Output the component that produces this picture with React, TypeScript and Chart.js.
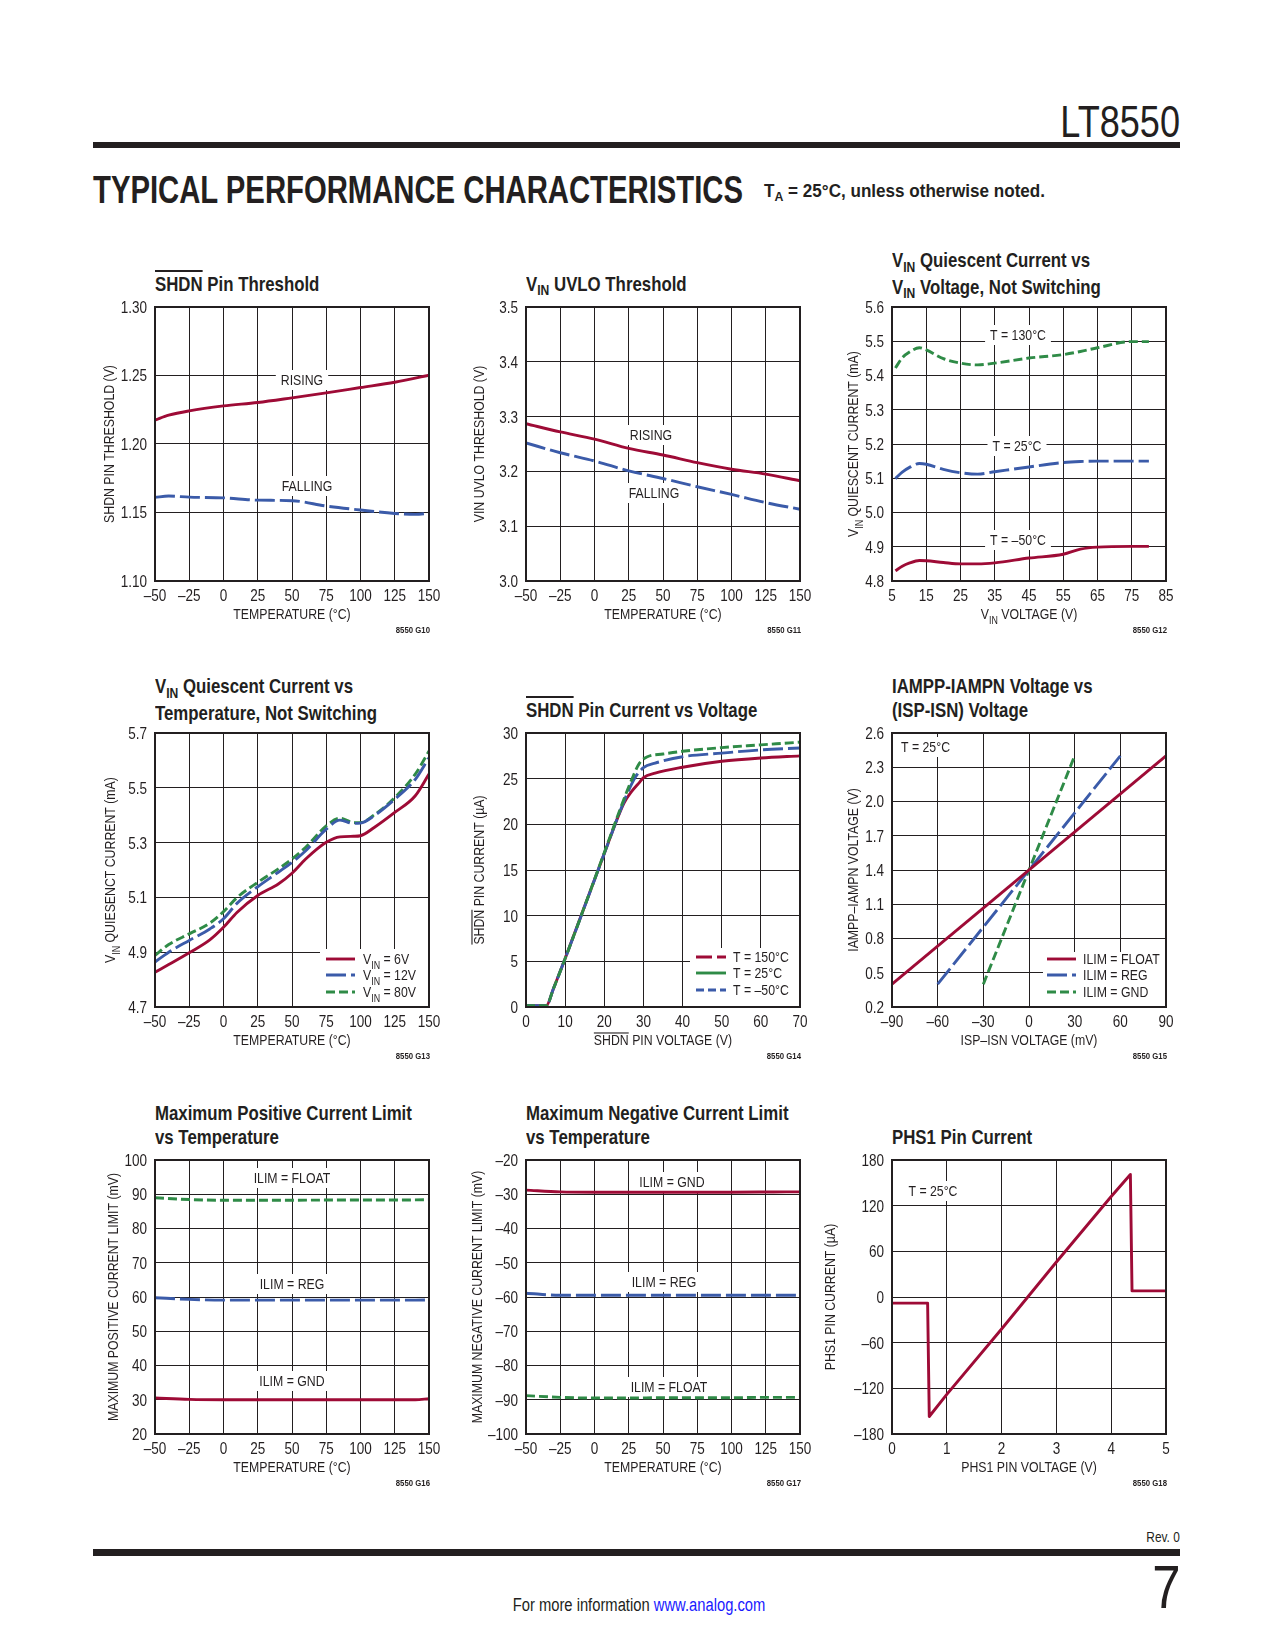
import React, { useEffect, useRef } from "react";
import { Chart, registerables } from "chart.js";
Chart.register(...registerables);

// ===================== DATA =====================
// G10  SHDN pin threshold vs temperature
const g10RisingTemp = [-50, -40, -25, 0, 25, 50, 75, 100, 125, 150];
const g10Rising = [1.2174, 1.221, 1.2242, 1.2278, 1.2303, 1.2337, 1.2373, 1.2412, 1.2451, 1.2502];
const g10FallingTemp = [-50, -40, -25, 0, 25, 50, 75, 100, 125, 140, 150];
const g10Falling = [1.161, 1.162, 1.1612, 1.1607, 1.159, 1.1586, 1.1547, 1.1518, 1.1493, 1.1486, 1.1495];

// G11  VIN UVLO threshold vs temperature
const g11Temp = [-50, -25, 0, 25, 50, 75, 100, 125, 150];
const g11Rising = [3.287, 3.272, 3.259, 3.242, 3.23, 3.216, 3.204, 3.195, 3.183];
const g11Falling = [3.252, 3.234, 3.219, 3.201, 3.187, 3.172, 3.158, 3.143, 3.131];

// G12  VIN quiescent current vs VIN
const g12Vin = [6, 8, 10, 13, 15, 20, 25, 30, 35, 45, 55, 60, 65, 75, 80];
const g12T130 = [5.422, 5.452, 5.468, 5.481, 5.475, 5.449, 5.436, 5.431, 5.436, 5.451, 5.461, 5.47, 5.481, 5.499, 5.499];
const g12T25 = [5.099, 5.118, 5.131, 5.143, 5.141, 5.126, 5.116, 5.112, 5.119, 5.133, 5.146, 5.149, 5.15, 5.15, 5.15];
const g12Tm50 = [4.83, 4.843, 4.852, 4.86, 4.859, 4.854, 4.85, 4.85, 4.853, 4.867, 4.878, 4.893, 4.899, 4.901, 4.901];

// G13  VIN quiescent current vs temperature
const g13Temp = [-50, -40, -25, -10, 0, 10, 25, 40, 50, 60, 75, 85, 95, 100, 110, 125, 140, 150];
const g13Vin6 = [4.827, 4.855, 4.898, 4.945, 4.991, 5.046, 5.107, 5.149, 5.188, 5.24, 5.301, 5.321, 5.323, 5.325, 5.355, 5.41, 5.471, 5.55];
const g13Vin12 = [4.864, 4.9, 4.943, 4.985, 5.022, 5.079, 5.139, 5.192, 5.228, 5.27, 5.349, 5.382, 5.37, 5.371, 5.398, 5.458, 5.531, 5.61];
const g13Vin80 = [4.888, 4.928, 4.967, 5.006, 5.048, 5.1, 5.155, 5.204, 5.24, 5.283, 5.361, 5.389, 5.373, 5.373, 5.401, 5.464, 5.55, 5.634];

// G14  SHDN pin current vs voltage
const g14RedV = [0, 5.2, 7, 10, 20, 25, 27, 29, 30, 33, 40, 50, 60, 70];
const g14RedI = [0.15, 0.15, 2.0, 5.3, 16.8, 22.3, 23.6, 24.6, 25.1, 25.6, 26.25, 26.9, 27.27, 27.5];
const g14BlueV = [0, 5.2, 7, 10, 20, 24, 26, 28, 30, 33, 40, 50, 60, 70];
const g14BlueI = [0.15, 0.15, 2.0, 5.3, 16.8, 21.4, 23.5, 25.2, 26.2, 26.7, 27.4, 27.8, 28.15, 28.36];
const g14GreenV = [0, 5.2, 7, 10, 20, 24, 27, 29, 31, 35, 40, 50, 60, 70];
const g14GreenI = [0.15, 0.15, 2.0, 5.3, 16.9, 21.6, 24.9, 26.7, 27.4, 27.7, 28.0, 28.4, 28.7, 29.0];

// G15  IAMPP-IAMPN vs ISP-ISN
const g15FloatX = [-90, 90];
const g15FloatY = [0.4, 2.4];
const g15RegX = [-60, 60];
const g15RegY = [0.4, 2.4];
const g15GndX = [-30, 30];
const g15GndY = [0.4, 2.4];

// G16  Max positive current limit
const g16Temp = [-50, -25, 0, 25, 50, 75, 100, 125, 140, 150];
const g16Float = [89.0, 88.45, 88.25, 88.25, 88.25, 88.3, 88.3, 88.3, 88.35, 88.4];
const g16Reg = [59.8, 59.3, 59.1, 59.1, 59.1, 59.1, 59.1, 59.1, 59.1, 59.15];
const g16Gnd = [30.5, 30.1, 30.0, 30.0, 30.0, 30.0, 30.0, 30.0, 30.0, 30.3];

// G17  Max negative current limit
const g17Temp = [-50, -25, 0, 25, 50, 75, 100, 125, 140, 150];
const g17Gnd = [-28.8, -29.3, -29.4, -29.4, -29.4, -29.4, -29.4, -29.35, -29.3, -29.3];
const g17Reg = [-58.9, -59.5, -59.5, -59.5, -59.5, -59.5, -59.5, -59.5, -59.5, -59.5];
const g17Float = [-88.8, -89.3, -89.5, -89.5, -89.4, -89.4, -89.4, -89.3, -89.3, -89.3];

// G18  PHS1 pin current
const g18Volt = [0, 0.65, 0.68, 1, 2, 2.5, 3, 4, 4.35, 4.38, 5];
const g18Curr = [-8, -8, -157, -128, -42, 2, 46, 132, 161, 8, 8];

// axis ranges [min, max, step]
const tempAxis: [number, number, number] = [-50, 150, 25];
const g10YAxis: [number, number, number] = [1.1, 1.3, 0.05];
const g11YAxis: [number, number, number] = [3.0, 3.5, 0.1];
const g12XAxis: [number, number, number] = [5, 85, 10];
const g12YAxis: [number, number, number] = [4.8, 5.6, 0.1];
const g13YAxis: [number, number, number] = [4.7, 5.7, 0.2];
const g14XAxis: [number, number, number] = [0, 70, 10];
const g14YAxis: [number, number, number] = [0, 30, 5];
const g15XAxis: [number, number, number] = [-90, 90, 30];
const g15YAxis: [number, number, number] = [0.2, 2.6, 0.3];
const g16YAxis: [number, number, number] = [20, 100, 10];
const g17YAxis: [number, number, number] = [-100, -20, 10];
const g18XAxis: [number, number, number] = [0, 5, 1];
const g18YAxis: [number, number, number] = [-180, 180, 60];

// ===================== STYLE =====================
const INK = "#231f20";
const RED = "#9e0b36";
const BLUE = "#3b5ba9";
const GREEN = "#2f8b47";
const FONT = '"Liberation Sans", Arial, sans-serif';
const K = 0.82; // horizontal condensation (narrow face)
const DASH_LONG = [20, 5];
const DASH_SHORT = [9, 4];
const LINE_W = 2.9;
const TICK_SIZE = 16.5;
const LABEL_SIZE = 15;
const TITLE_SIZE = 20.5;

const PLOT = 274;
const PAD_L = 76;
const PAD_T = 14;
const PAD_R = 22;
const PAD_B = 62;
const CW = PAD_L + PLOT + PAD_R;
const CH = PAD_T + PLOT + PAD_B;

type Seg = { t: string; sub?: boolean; over?: boolean };
const S = (t: string): Seg => ({ t });
const SUB = (t: string): Seg => ({ t, sub: true });
const OV = (t: string): Seg => ({ t, over: true });

type Series = { xs: number[]; ys: number[]; color: string; dash: number[]; smooth: boolean };
type Note = { text: Seg[]; dx: number; dy: number; align?: "center" | "left" };
type LegendItem = { text: Seg[]; color: string; dash: number[] };
type Legend = { box: [number, number, number, number]; sample: [number, number]; textX: number; rows: number[]; items: LegendItem[] };
type Spec = {
  id: string;
  left: number;
  top: number;
  x: [number, number, number];
  y: [number, number, number];
  xDec: number;
  yDec: number;
  series: Series[];
  notes: Note[];
  legend?: Legend;
  xTitle: Seg[];
  yTitle: Seg[];
  yOff: number;
  code: string;
  title: Seg[][];
};

const COLS = [155, 526, 892];
const ROWS = [307, 733, 1160];

const SPECS: Spec[] = [
  {
    id: "g10", left: COLS[0], top: ROWS[0], x: tempAxis, y: g10YAxis, xDec: 0, yDec: 2,
    series: [
      { xs: g10RisingTemp, ys: g10Rising, color: RED, dash: [], smooth: true },
      { xs: g10FallingTemp, ys: g10Falling, color: BLUE, dash: DASH_LONG, smooth: true },
    ],
    notes: [
      { text: [S("RISING")], dx: 147, dy: 73 },
      { text: [S("FALLING")], dx: 152, dy: 179 },
    ],
    xTitle: [S("TEMPERATURE (°C)")], yTitle: [S("SHDN PIN THRESHOLD (V)")], yOff: 46, code: "8550 G10",
    title: [[OV("SHDN"), S(" Pin Threshold")]],
  },
  {
    id: "g11", left: COLS[1], top: ROWS[0], x: tempAxis, y: g11YAxis, xDec: 0, yDec: 1,
    series: [
      { xs: g11Temp, ys: g11Rising, color: RED, dash: [], smooth: true },
      { xs: g11Temp, ys: g11Falling, color: BLUE, dash: DASH_LONG, smooth: true },
    ],
    notes: [
      { text: [S("RISING")], dx: 125, dy: 128 },
      { text: [S("FALLING")], dx: 128, dy: 186 },
    ],
    xTitle: [S("TEMPERATURE (°C)")], yTitle: [S("VIN UVLO THRESHOLD (V)")], yOff: 47, code: "8550 G11",
    title: [[S("V"), SUB("IN"), S(" UVLO Threshold")]],
  },
  {
    id: "g12", left: COLS[2], top: ROWS[0], x: g12XAxis, y: g12YAxis, xDec: 0, yDec: 1,
    series: [
      { xs: g12Vin, ys: g12T130, color: GREEN, dash: DASH_SHORT, smooth: true },
      { xs: g12Vin, ys: g12T25, color: BLUE, dash: DASH_LONG, smooth: true },
      { xs: g12Vin, ys: g12Tm50, color: RED, dash: [], smooth: true },
    ],
    notes: [
      { text: [S("T = 130°C")], dx: 126, dy: 28 },
      { text: [S("T = 25°C")], dx: 125, dy: 139 },
      { text: [S("T = –50°C")], dx: 126, dy: 233 },
    ],
    xTitle: [S("V"), SUB("IN"), S(" VOLTAGE (V)")],
    yTitle: [S("V"), SUB("IN"), S(" QUIESCENT CURRENT (mA)")], yOff: 39, code: "8550 G12",
    title: [
      [S("V"), SUB("IN"), S(" Quiescent Current vs")],
      [S("V"), SUB("IN"), S(" Voltage, Not Switching")],
    ],
  },
  {
    id: "g13", left: COLS[0], top: ROWS[1], x: tempAxis, y: g13YAxis, xDec: 0, yDec: 1,
    series: [
      { xs: g13Temp, ys: g13Vin6, color: RED, dash: [], smooth: true },
      { xs: g13Temp, ys: g13Vin12, color: BLUE, dash: DASH_LONG, smooth: true },
      { xs: g13Temp, ys: g13Vin80, color: GREEN, dash: DASH_SHORT, smooth: true },
    ],
    notes: [],
    legend: {
      box: [165, 216, 108, 58], sample: [171, 200], textX: 208, rows: [226, 242, 259],
      items: [
        { text: [S("V"), SUB("IN"), S(" = 6V")], color: RED, dash: [] },
        { text: [S("V"), SUB("IN"), S(" = 12V")], color: BLUE, dash: DASH_LONG },
        { text: [S("V"), SUB("IN"), S(" = 80V")], color: GREEN, dash: DASH_SHORT },
      ],
    },
    xTitle: [S("TEMPERATURE (°C)")],
    yTitle: [S("V"), SUB("IN"), S(" QUIESENCT CURRENT (mA)")], yOff: 45, code: "8550 G13",
    title: [
      [S("V"), SUB("IN"), S(" Quiescent Current vs")],
      [S("Temperature, Not Switching")],
    ],
  },
  {
    id: "g14", left: COLS[1], top: ROWS[1], x: g14XAxis, y: g14YAxis, xDec: 0, yDec: 0,
    series: [
      { xs: g14GreenV, ys: g14GreenI, color: GREEN, dash: DASH_SHORT, smooth: true },
      { xs: g14BlueV, ys: g14BlueI, color: BLUE, dash: DASH_LONG, smooth: true },
      { xs: g14RedV, ys: g14RedI, color: RED, dash: [], smooth: true },
    ],
    notes: [],
    legend: {
      box: [164, 215, 109, 59], sample: [170, 200], textX: 207, rows: [224, 240, 257],
      items: [
        { text: [S("T = 150°C")], color: RED, dash: [16, 5] },
        { text: [S("T = 25°C")], color: GREEN, dash: [] },
        { text: [S("T = –50°C")], color: BLUE, dash: [8, 4] },
      ],
    },
    xTitle: [OV("SHDN"), S(" PIN VOLTAGE (V)")],
    yTitle: [OV("SHDN"), S(" PIN CURRENT (µA)")], yOff: 47, code: "8550 G14",
    title: [[OV("SHDN"), S(" Pin Current vs Voltage")]],
  },
  {
    id: "g15", left: COLS[2], top: ROWS[1], x: g15XAxis, y: g15YAxis, xDec: 0, yDec: 1,
    series: [
      { xs: g15FloatX, ys: g15FloatY, color: RED, dash: [], smooth: false },
      { xs: g15RegX, ys: g15RegY, color: BLUE, dash: DASH_LONG, smooth: false },
      { xs: g15GndX, ys: g15GndY, color: GREEN, dash: DASH_SHORT, smooth: false },
    ],
    notes: [{ text: [S("T = 25°C")], dx: 9, dy: 14, align: "left" }],
    legend: {
      box: [151, 219, 122, 55], sample: [155, 184], textX: 191, rows: [226, 242, 259],
      items: [
        { text: [S("ILIM = FLOAT")], color: RED, dash: [] },
        { text: [S("ILIM = REG")], color: BLUE, dash: DASH_LONG },
        { text: [S("ILIM = GND")], color: GREEN, dash: DASH_SHORT },
      ],
    },
    xTitle: [S("ISP–ISN VOLTAGE (mV)")],
    yTitle: [S("IAMPP–IAMPN VOLTAGE (V)")], yOff: 39, code: "8550 G15",
    title: [[S("IAMPP-IAMPN Voltage vs")], [S("(ISP-ISN) Voltage")]],
  },
  {
    id: "g16", left: COLS[0], top: ROWS[2], x: tempAxis, y: g16YAxis, xDec: 0, yDec: 0,
    series: [
      { xs: g16Temp, ys: g16Float, color: GREEN, dash: DASH_SHORT, smooth: true },
      { xs: g16Temp, ys: g16Reg, color: BLUE, dash: DASH_LONG, smooth: true },
      { xs: g16Temp, ys: g16Gnd, color: RED, dash: [], smooth: true },
    ],
    notes: [
      { text: [S("ILIM = FLOAT")], dx: 137, dy: 18 },
      { text: [S("ILIM = REG")], dx: 137, dy: 124 },
      { text: [S("ILIM = GND")], dx: 137, dy: 221 },
    ],
    xTitle: [S("TEMPERATURE (°C)")],
    yTitle: [S("MAXIMUM POSITIVE CURRENT LIMIT (mV)")], yOff: 42, code: "8550 G16",
    title: [[S("Maximum Positive Current Limit")], [S("vs Temperature")]],
  },
  {
    id: "g17", left: COLS[1], top: ROWS[2], x: tempAxis, y: g17YAxis, xDec: 0, yDec: 0,
    series: [
      { xs: g17Temp, ys: g17Gnd, color: RED, dash: [], smooth: true },
      { xs: g17Temp, ys: g17Reg, color: BLUE, dash: DASH_LONG, smooth: true },
      { xs: g17Temp, ys: g17Float, color: GREEN, dash: DASH_SHORT, smooth: true },
    ],
    notes: [
      { text: [S("ILIM = GND")], dx: 146, dy: 22 },
      { text: [S("ILIM = REG")], dx: 138, dy: 122 },
      { text: [S("ILIM = FLOAT")], dx: 143, dy: 227 },
    ],
    xTitle: [S("TEMPERATURE (°C)")],
    yTitle: [S("MAXIMUM NEGATIVE CURRENT LIMIT (mV)")], yOff: 49, code: "8550 G17",
    title: [[S("Maximum Negative Current Limit")], [S("vs Temperature")]],
  },
  {
    id: "g18", left: COLS[2], top: ROWS[2], x: g18XAxis, y: g18YAxis, xDec: 0, yDec: 0,
    series: [{ xs: g18Volt, ys: g18Curr, color: RED, dash: [], smooth: false }],
    notes: [{ text: [S("T = 25°C")], dx: 41, dy: 31 }],
    xTitle: [S("PHS1 PIN VOLTAGE (V)")],
    yTitle: [S("PHS1 PIN CURRENT (µA)")], yOff: 62, code: "8550 G18",
    title: [[S("PHS1 Pin Current")]],
  },
];

// ===================== DRAW HELPERS =====================
function segFont(size: number, sub?: boolean, bold?: boolean) {
  return `${bold ? "bold " : ""}${sub ? (size * 0.72).toFixed(1) : size}px ${FONT}`;
}
function richWidth(ctx: CanvasRenderingContext2D, segs: Seg[], size: number, bold?: boolean) {
  let w = 0;
  for (const s of segs) {
    ctx.font = segFont(size, s.sub, bold);
    w += ctx.measureText(s.t).width;
  }
  return w * K;
}
function drawRich(
  ctx: CanvasRenderingContext2D,
  segs: Seg[],
  x: number,
  baseline: number,
  size: number,
  align: "left" | "center" | "right",
  bold?: boolean
) {
  const w = richWidth(ctx, segs, size, bold);
  const x0 = align === "center" ? x - w / 2 : align === "right" ? x - w : x;
  ctx.save();
  ctx.translate(x0, 0);
  ctx.scale(K, 1);
  ctx.textAlign = "left";
  ctx.textBaseline = "alphabetic";
  let cx = 0;
  for (const s of segs) {
    ctx.font = segFont(size, s.sub, bold);
    const sw = ctx.measureText(s.t).width;
    const by = s.sub ? baseline + size * 0.28 : baseline;
    ctx.fillText(s.t, cx, by);
    if (s.over) ctx.fillRect(cx, baseline - size * 0.716 - 2.2, sw, 1.1);
    cx += sw;
  }
  ctx.restore();
}
function fmt(v: number, dec: number) {
  const val = Math.abs(v) < 1e-9 ? 0 : v;
  const s = Math.abs(val).toFixed(dec);
  return val < 0 ? "–" + s : s;
}

function decor(spec: Spec) {
  return {
    id: "decor-" + spec.id,
    beforeDatasetsDraw(chart: any) {
      const ctx: CanvasRenderingContext2D = chart.ctx;
      const a = chart.chartArea;
      ctx.save();
      for (const n of spec.notes) {
        const w = richWidth(ctx, n.text, LABEL_SIZE);
        const cx = n.align === "left" ? a.left + n.dx + w / 2 : a.left + n.dx;
        const cy = a.top + n.dy;
        ctx.fillStyle = "#ffffff";
        ctx.fillRect(cx - w / 2 - 5, cy - 10, w + 10, 20);
        ctx.fillStyle = INK;
        drawRich(ctx, n.text, cx, cy + 0.358 * LABEL_SIZE, LABEL_SIZE, "center");
      }
      ctx.restore();
    },
    afterDatasetsDraw(chart: any) {
      const L = spec.legend;
      if (!L) return;
      const ctx: CanvasRenderingContext2D = chart.ctx;
      const a = chart.chartArea;
      ctx.save();
      ctx.fillStyle = "#ffffff";
      ctx.fillRect(a.left + L.box[0], a.top + L.box[1], L.box[2], L.box[3]);
      L.items.forEach((it, i) => {
        const y = a.top + L.rows[i];
        ctx.strokeStyle = it.color;
        ctx.lineWidth = LINE_W;
        ctx.lineCap = "butt";
        ctx.setLineDash(it.dash);
        ctx.beginPath();
        ctx.moveTo(a.left + L.sample[0], y);
        ctx.lineTo(a.left + L.sample[1], y);
        ctx.stroke();
        ctx.setLineDash([]);
        ctx.fillStyle = INK;
        drawRich(ctx, it.text, a.left + L.textX, y + 0.358 * LABEL_SIZE, LABEL_SIZE, "left");
      });
      ctx.restore();
    },
    afterDraw(chart: any) {
      const ctx: CanvasRenderingContext2D = chart.ctx;
      const a = chart.chartArea;
      const xs = chart.scales.x;
      const ys = chart.scales.y;
      ctx.save();
      ctx.setLineDash([]);
      ctx.strokeStyle = INK;
      ctx.lineWidth = 2;
      ctx.strokeRect(a.left, a.top, a.right - a.left, a.bottom - a.top);
      ctx.fillStyle = INK;
      // tick labels from the library's scales
      for (const t of xs.ticks) {
        const px = xs.getPixelForValue(t.value);
        drawRich(ctx, [S(fmt(t.value, spec.xDec))], px, a.bottom + 14 + 0.358 * TICK_SIZE, TICK_SIZE, "center");
      }
      for (const t of ys.ticks) {
        const py = ys.getPixelForValue(t.value);
        drawRich(ctx, [S(fmt(t.value, spec.yDec))], a.left - 8, py + 0.358 * TICK_SIZE, TICK_SIZE, "right");
      }
      // axis titles
      drawRich(ctx, spec.xTitle, (a.left + a.right) / 2, a.bottom + 33 + 0.358 * LABEL_SIZE, LABEL_SIZE, "center");
      ctx.save();
      ctx.translate(a.left - spec.yOff, (a.top + a.bottom) / 2);
      ctx.rotate(-Math.PI / 2);
      drawRich(ctx, spec.yTitle, 0, 0.358 * LABEL_SIZE, LABEL_SIZE, "center");
      ctx.restore();
      drawRich(ctx, [S(spec.code)], a.right + 1, a.bottom + 52, 9.5, "right", true);
      ctx.restore();
    },
  };
}

function buildConfig(spec: Spec) {
  const [xMin, xMax, xStep] = spec.x;
  const [yMin, yMax, yStep] = spec.y;
  return {
    type: "line",
    data: {
      datasets: spec.series.map((s) => ({
        data: s.xs.map((x, i) => ({ x, y: s.ys[i] })),
        borderColor: s.color,
        borderWidth: LINE_W,
        borderDash: s.dash,
        borderCapStyle: "butt",
        borderJoinStyle: "round",
        pointRadius: 0,
        fill: false,
        tension: 0,
        cubicInterpolationMode: s.smooth ? "monotone" : "default",
      })),
    },
    options: {
      responsive: false,
      animation: false,
      devicePixelRatio: 1,
      events: [],
      layout: { padding: { left: 0, top: PAD_T, right: PAD_R, bottom: 0 } },
      plugins: { legend: { display: false }, tooltip: { enabled: false } },
      scales: {
        x: {
          type: "linear",
          min: xMin,
          max: xMax,
          afterFit: (sc: any) => {
            sc.height = PAD_B;
            sc.paddingLeft = 0;
            sc.paddingRight = 0;
          },
          ticks: { stepSize: xStep, autoSkip: false, display: false },
          grid: { color: INK, lineWidth: 1, drawTicks: false },
          border: { display: false },
        },
        y: {
          type: "linear",
          min: yMin,
          max: yMax,
          afterFit: (sc: any) => {
            sc.width = PAD_L;
            sc.paddingTop = 0;
            sc.paddingBottom = 0;
          },
          ticks: { stepSize: yStep, autoSkip: false, display: false },
          grid: { color: INK, lineWidth: 1, drawTicks: false },
          border: { display: false },
        },
      },
    },
    plugins: [decor(spec)],
  };
}

// ===================== COMPONENTS =====================
function Segs({ segs }: { segs: Seg[] }) {
  return (
    <>
      {segs.map((s, i) =>
        s.sub ? (
          <span key={i} style={{ fontSize: "0.72em", position: "relative", top: "0.3em" }}>{s.t}</span>
        ) : s.over ? (
          <span key={i} style={{ textDecoration: "overline", textDecorationThickness: "1.5px" }}>{s.t}</span>
        ) : (
          <span key={i}>{s.t}</span>
        )
      )}
    </>
  );
}

function Plot({ spec }: { spec: Spec }) {
  const ref = useRef<HTMLCanvasElement>(null);
  useEffect(() => {
    const c = ref.current;
    if (!c) return;
    const chart = new Chart(c, buildConfig(spec) as any);
    return () => chart.destroy();
  }, [spec]);
  return (
    <canvas
      ref={ref}
      width={CW}
      height={CH}
      style={{ position: "absolute", left: spec.left - PAD_L, top: spec.top - PAD_T, width: CW, height: CH }}
    />
  );
}

function Title({ spec }: { spec: Spec }) {
  const n = spec.title.length;
  const top = spec.top - 16.5 - (11.75 + 0.3465 * TITLE_SIZE) - (n - 1) * 23.5;
  return (
    <div
      style={{
        position: "absolute",
        left: spec.left,
        top,
        font: `bold ${TITLE_SIZE}px ${FONT}`,
        lineHeight: "23.5px",
        color: INK,
        whiteSpace: "nowrap",
        transform: `scaleX(${K})`,
        transformOrigin: "left top",
      }}
    >
      {spec.title.map((line, i) => (
        <div key={i}>
          <Segs segs={line} />
        </div>
      ))}
    </div>
  );
}

function Txt({ left, right, baseline, size, bold, children, color, center }: any) {
  const style: any = {
    position: "absolute",
    top: baseline - 0.8465 * size,
    fontFamily: FONT,
    fontSize: size,
    lineHeight: `${size}px`,
    fontWeight: bold ? "bold" : "normal",
    color: color || INK,
    whiteSpace: "nowrap",
    transform: `scaleX(${K})`,
  };
  if (center !== undefined) {
    style.left = center - 400;
    style.width = 800;
    style.textAlign = "center";
    style.transformOrigin = "center top";
  } else if (right !== undefined) {
    style.right = right;
    style.textAlign = "right";
    style.transformOrigin = "right top";
  } else {
    style.left = left;
    style.transformOrigin = "left top";
  }
  return <div style={style}>{children}</div>;
}

export default function App() {
  return (
    <div
      style={{
        position: "absolute",
        left: 0,
        top: 0,
        width: 1275,
        height: 1650,
        background: "#ffffff",
        overflow: "hidden",
        color: INK,
        fontFamily: FONT,
      }}
    >
      <Txt right={95} baseline={137} size={44}>LT8550</Txt>
      <div style={{ position: "absolute", left: 93, top: 142, width: 1087, height: 6, background: INK }} />
      <svg style={{ position: "absolute", left: 90, top: 168 }} width={700} height={44}>
        <text
          x={3}
          y={35}
          textLength={650}
          lengthAdjust="spacingAndGlyphs"
          fontFamily={FONT}
          fontWeight="bold"
          fontSize={39}
          fill={INK}
        >
          TYPICAL PERFORMANCE CHARACTERISTICS
        </text>
      </svg>
      <svg style={{ position: "absolute", left: 760, top: 178 }} width={300} height={30}>
        <text x={4} y={19} textLength={281} lengthAdjust="spacingAndGlyphs" fontFamily={FONT} fontWeight="bold" fontSize={18} fill={INK}>
          T<tspan fontSize={13} dy={4}>A</tspan>
          <tspan dy={-4}> = 25°C, unless otherwise noted.</tspan>
        </text>
      </svg>

      {SPECS.map((s) => (
        <React.Fragment key={s.id}>
          <Title spec={s} />
          <Plot spec={s} />
        </React.Fragment>
      ))}

      <Txt right={95} baseline={1542} size={14.5}>Rev. 0</Txt>
      <div style={{ position: "absolute", left: 93, top: 1549, width: 1087, height: 7, background: INK }} />
      <Txt right={95} baseline={1608} size={62}>7</Txt>
      <Txt center={638.5} baseline={1611} size={18}>
        For more information <span style={{ color: "#1a1aff" }}>www.analog.com</span>
      </Txt>
    </div>
  );
}
